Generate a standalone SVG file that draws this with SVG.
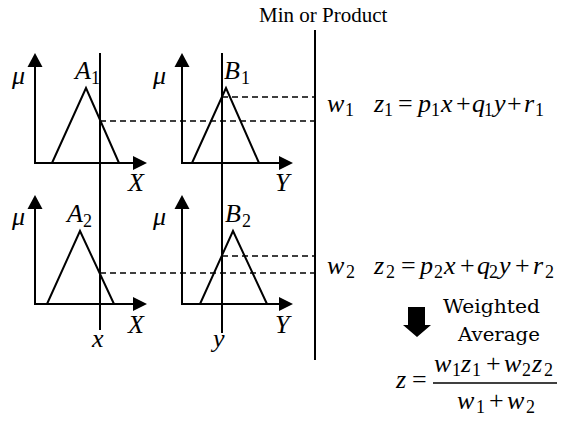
<svg xmlns="http://www.w3.org/2000/svg" width="574" height="421" viewBox="0 0 574 421">
<style>
.ax{stroke:#000;stroke-width:2;fill:none}
.tri{stroke:#000;stroke-width:2;fill:none;stroke-linejoin:miter}
.dash{stroke:#000;stroke-width:1.6;stroke-dasharray:6,4;fill:none}
.vl{stroke:#000;stroke-width:2}
.ah{fill:#000}
</style>
<rect width="574" height="421" fill="#fff"/>

<g id="panel-A1">
<line class="ax" x1="35" y1="64" x2="35" y2="163"/>
<line class="ax" x1="34" y1="163" x2="136" y2="163"/>
<polygon class="ah" points="35,53 27.5,67 42.5,67"/>
<polygon class="ah" points="147,163 133,156 133,170"/>
<polyline class="tri" points="52,163 86,88 119,163"/>
<g font-family="'Liberation Serif', 'Times New Roman', serif" font-size="26" font-style="italic">
<text x="12" y="84">μ</text>
<text x="75" y="79">A<tspan font-size="18" font-style="normal" x="91" y="84">1</tspan></text>
<text x="128" y="191">X</text>
</g>
</g>

<g id="panel-B1">
<line class="ax" x1="182" y1="64" x2="182" y2="163"/>
<line class="ax" x1="181" y1="163" x2="282" y2="163"/>
<polygon class="ah" points="182,53 174.5,67 189.5,67"/>
<polygon class="ah" points="293,163 279,156 279,170"/>
<polyline class="tri" points="192,163 226,88 259,163"/>
<g font-family="'Liberation Serif', 'Times New Roman', serif" font-size="26" font-style="italic">
<text x="153" y="84">μ</text>
<text x="224" y="79">B<tspan font-size="18" font-style="normal" x="241" y="84">1</tspan></text>
<text x="275" y="191">Y</text>
</g>
</g>

<g id="panel-A2">
<line class="ax" x1="35" y1="206" x2="35" y2="304"/>
<line class="ax" x1="34" y1="304" x2="136" y2="304"/>
<polygon class="ah" points="35,195 27.5,209 42.5,209"/>
<polygon class="ah" points="147,304 133,297 133,311"/>
<polyline class="tri" points="47,304 80,231 114,304"/>
<g font-family="'Liberation Serif', 'Times New Roman', serif" font-size="26" font-style="italic">
<text x="12" y="225">μ</text>
<text x="67" y="222">A<tspan font-size="18" font-style="normal" x="83" y="227">2</tspan></text>
<text x="128" y="333">X</text>
</g>
</g>

<g id="panel-B2">
<line class="ax" x1="182" y1="206" x2="182" y2="304"/>
<line class="ax" x1="181" y1="304" x2="282" y2="304"/>
<polygon class="ah" points="182,195 174.5,209 189.5,209"/>
<polygon class="ah" points="293,304 279,297 279,311"/>
<polyline class="tri" points="200,304 233,231 267,304"/>
<g font-family="'Liberation Serif', 'Times New Roman', serif" font-size="26" font-style="italic">
<text x="153" y="225">μ</text>
<text x="225" y="222">B<tspan font-size="18" font-style="normal" x="242" y="227">2</tspan></text>
<text x="275" y="333">Y</text>
</g>
</g>

<g id="connectors">
<line class="vl" x1="100" y1="53" x2="100" y2="330"/>
<line class="vl" x1="222" y1="53" x2="222" y2="333"/>
<line class="vl" x1="315" y1="30" x2="315" y2="360"/>
<line class="dash" x1="222" y1="97" x2="315" y2="97"/>
<line class="dash" x1="100" y1="121" x2="315" y2="121"/>
<line class="dash" x1="222" y1="256" x2="315" y2="256"/>
<line class="dash" x1="100" y1="273" x2="315" y2="273"/>
</g>

<g id="labels" font-family="'Liberation Serif', 'Times New Roman', serif">
<text x="259" y="22" font-size="21">Min or Product</text>
<text x="92" y="347" font-size="26" font-style="italic">x</text>
<text x="213" y="347" font-size="26" font-style="italic">y</text>
</g>

<g id="rule1" font-family="'Liberation Serif', 'Times New Roman', serif" font-size="26" font-style="italic">
<text x="327" y="112">w<tspan font-size="18" font-style="normal" x="345" y="116">1</tspan></text>
<text x="374" y="112">z<tspan font-size="18" font-style="normal" x="384" y="116">1</tspan><tspan font-style="normal" x="398" y="112">=</tspan><tspan x="418" y="112">p</tspan><tspan font-size="18" font-style="normal" x="431" y="116">1</tspan><tspan x="441" y="112">x</tspan><tspan font-style="normal" x="456" y="112">+</tspan><tspan x="472" y="112">q</tspan><tspan font-size="18" font-style="normal" x="484" y="116">1</tspan><tspan x="494" y="112">y</tspan><tspan font-style="normal" x="507" y="112">+</tspan><tspan x="524" y="112">r</tspan><tspan font-size="18" font-style="normal" x="535" y="116">1</tspan></text>
</g>

<g id="rule2" font-family="'Liberation Serif', 'Times New Roman', serif" font-size="26" font-style="italic">
<text x="327" y="274">w<tspan font-size="18" font-style="normal" x="346" y="278">2</tspan></text>
<text x="374" y="274">z<tspan font-size="18" font-style="normal" x="386" y="278">2</tspan><tspan font-style="normal" x="401" y="274">=</tspan><tspan x="420" y="274">p</tspan><tspan font-size="18" font-style="normal" x="434" y="278">2</tspan><tspan x="444" y="274">x</tspan><tspan font-style="normal" x="460" y="274">+</tspan><tspan x="477" y="274">q</tspan><tspan font-size="18" font-style="normal" x="489" y="278">2</tspan><tspan x="499" y="274">y</tspan><tspan font-style="normal" x="515" y="274">+</tspan><tspan x="533" y="274">r</tspan><tspan font-size="18" font-style="normal" x="545" y="278">2</tspan></text>
</g>

<g id="weighted-average" font-family="'DejaVu Serif', 'Liberation Serif', serif" font-size="18">
<polygon class="ah" points="408,307 425,307 425,325 431,325 417,337 403,325 408,325"/>
<text x="443" y="313" textLength="97" lengthAdjust="spacingAndGlyphs">Weighted</text>
<text x="458" y="341" textLength="82" lengthAdjust="spacingAndGlyphs">Average</text>
</g>

<g id="result" font-family="'Liberation Serif', 'Times New Roman', serif" font-size="26" font-style="italic">
<text x="396" y="388">z<tspan font-style="normal" x="412" y="388">=</tspan></text>
<line x1="433" y1="383" x2="557" y2="383" stroke="#000" stroke-width="1.5"/>
<text x="434" y="372">w<tspan font-size="18" font-style="normal" x="452" y="376">1</tspan><tspan x="461" y="372">z</tspan><tspan font-size="18" font-style="normal" x="472" y="376">1</tspan><tspan font-style="normal" x="486" y="372">+</tspan><tspan x="504" y="372">w</tspan><tspan font-size="18" font-style="normal" x="522" y="376">2</tspan><tspan x="532" y="372">z</tspan><tspan font-size="18" font-style="normal" x="544" y="376">2</tspan></text>
<text x="457" y="409">w<tspan font-size="18" font-style="normal" x="476" y="413">1</tspan><tspan font-style="normal" x="489" y="409">+</tspan><tspan x="507" y="409">w</tspan><tspan font-size="18" font-style="normal" x="526" y="413">2</tspan></text>
</g>
</svg>
